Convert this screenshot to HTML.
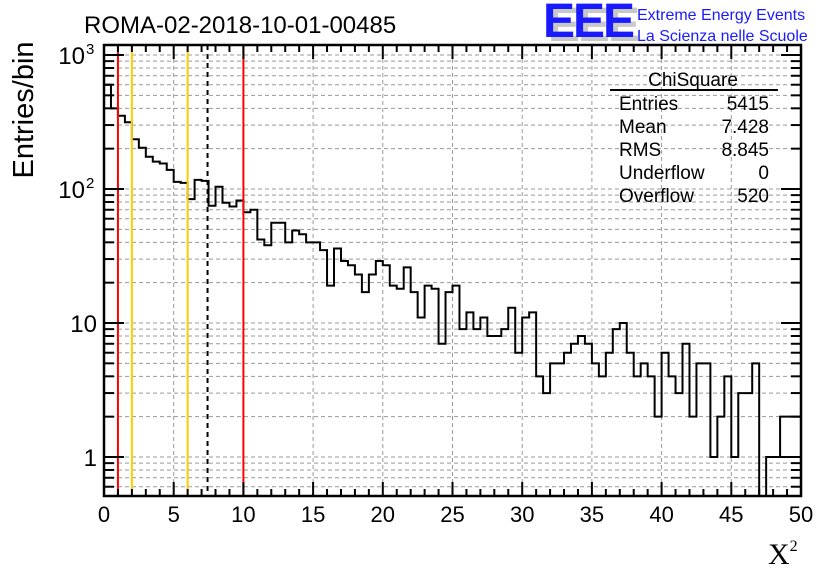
<!DOCTYPE html>
<html><head><meta charset="utf-8"><style>
html,body{margin:0;padding:0;background:#fff;}
svg{display:block;font-family:"Liberation Sans",sans-serif;}
</style></head><body>
<svg id="chart" width="836" height="572" viewBox="0 0 836 572">
<g id="grid"></g>
<g id="hist"></g>
<g id="cuts"></g>
<g id="axes"></g>
<text x="84" y="33" font-size="24">ROMA-02-2018-10-01-00485</text>
<text transform="translate(33,110) rotate(-90)" text-anchor="middle" font-size="29">Entries/bin</text>
<text x="768" y="564" font-size="30" font-family="Liberation Serif,serif">X<tspan font-size="16" dy="-13">2</tspan></text>
<g>
<text x="548" y="41" font-size="48" font-weight="bold" fill="#c8c8c8" letter-spacing="-2">EEE</text>
<text x="543" y="37" font-size="48" font-weight="bold" fill="#1a1aff" letter-spacing="-2">EEE</text>
<text x="637" y="20" font-size="16" fill="#1a1aff">Extreme Energy Events</text>
<text x="637" y="41" font-size="16" fill="#1a1aff">La Scienza nelle Scuole</text>
</g>
<g font-size="19">
<text x="693" y="86" text-anchor="middle">ChiSquare</text>
<line x1="610" y1="90" x2="778" y2="90" stroke="#000" stroke-width="2"/>
<text x="619" y="110">Entries</text><text x="769" y="110" text-anchor="end">5415</text>
<text x="619" y="133">Mean</text><text x="769" y="133" text-anchor="end">7.428</text>
<text x="619" y="156">RMS</text><text x="769" y="156" text-anchor="end">8.845</text>
<text x="619" y="179">Underflow</text><text x="769" y="179" text-anchor="end">0</text>
<text x="619" y="202">Overflow</text><text x="769" y="202" text-anchor="end">520</text>
</g>
</svg>
<script>
const counts = [600,400,352,315,235,203,174,160,155,139,113,111,84,117,115,75,104,79,74,82,
67,70,42,38,56,56,40,49,46,40,40,35,19,36,29,27,23,17,23,29,
27,19,18,26,17,11,19,18,7,17,19,9,12,9,11,8,8,9,13,6,
11,12,4,3,5,5,6,7,8,7,5,4,6,9,10,6,4,5,4,2,
6,4,3,7,2,5,5,1,2,4,1,3,3,5,0,1,1,2,2,2];
const xTicks = [0,5,10,15,20,25,30,35,40,45,50];
const yTickLabels = [{v:1,t:"1"},{v:10,t:"10"},{v:100,t:"10",e:"2"},{v:1000,t:"10",e:"3"}];
const cuts = [{x:1,c:"#ff0000",d:""},{x:2,c:"#ffcc00",d:""},{x:6,c:"#ffcc00",d:""},{x:10,c:"#ff0000",d:""},{x:7.428,c:"#000",d:"5,4"}];
const binWidth = 0.5;

const L=104,R=801,T=45,B=496;
const X0=0,X1=50;
function sx(v){return L+(v-X0)/(X1-X0)*(R-L);}
function sy(v){return 457-134*Math.log10(v);}
const NS="http://www.w3.org/2000/svg";
function mk(tag,attrs,parent){const e=document.createElementNS(NS,tag);for(const k in attrs)e.setAttribute(k,attrs[k]);parent.appendChild(e);return e;}
const grid=document.getElementById('grid'),hist=document.getElementById('hist'),cutsG=document.getElementById('cuts'),axes=document.getElementById('axes');

for(const t of xTicks){ if(t===X0||t===X1)continue;
 const g=mk('line',{x1:sx(t),x2:sx(t),y1:T,y2:B,stroke:'#999','stroke-dasharray':'4,3','stroke-width':1},grid);
 
 
}
for(let d=0.1;d<=1000;d*=10){for(let m=1;m<10;m++){const v=d*m;const y=sy(v);if(y<T+1||y>B-1)continue;
 const g=mk('line',{x1:L,x2:R,y1:y,y2:y,stroke:'#999','stroke-dasharray':'4,3','stroke-width':1},grid);
 
 
 const len=(m===1)?20:10;
 const t1=mk('line',{x1:L,x2:L+len,y1:y,y2:y,stroke:'#000','stroke-width':2},axes);
 
 
 const t2=mk('line',{x1:R-len,x2:R,y1:y,y2:y,stroke:'#000','stroke-width':2},axes);
 
 
}}

let d='M'+sx(0)+','+B;
counts.forEach((c,i)=>{const y=c>0?Math.min(B,sy(c)):B;d+=' L'+sx(i*binWidth)+','+y+' L'+sx((i+1)*binWidth)+','+y;});
d+=' L'+sx(counts.length*binWidth)+','+B;
const hp=mk('path',{d:d,fill:'none',stroke:'#000','stroke-width':2},hist);



for(const c of cuts){const ln=mk('line',{x1:sx(c.x),x2:sx(c.x),y1:T,y2:B,stroke:c.c,'stroke-width':2},cutsG);
 if(c.d)ln.setAttribute('stroke-dasharray',c.d);
 
 
}

const fr=mk('rect',{x:L,y:T,width:R-L,height:B-T,fill:'none',stroke:'#000','stroke-width':2.5},axes);



for(let v=X0;v<=X1;v+=1){const major=(v%5===0);const len=major?14:7;
 const a=mk('line',{x1:sx(v),x2:sx(v),y1:B-len,y2:B,stroke:'#000','stroke-width':2},axes);
 
 
 const b=mk('line',{x1:sx(v),x2:sx(v),y1:T,y2:T+len,stroke:'#000','stroke-width':2},axes);
 
 
}
for(const t of xTicks){const tx=mk('text',{x:sx(t),y:522,'text-anchor':'middle','font-size':22},axes);tx.textContent=t;
 
 
}
for(const t of yTickLabels){const y=sy(t.v);
 const tx=mk('text',{x:t.e?85:97,y:y+9,'text-anchor':'end','font-size':24},axes);tx.textContent=t.t;
 
 
 if(t.e){const s=mk('text',{x:86,y:y-1,'font-size':15},axes);s.textContent=t.e;
  
  }
}
</script>
</body></html>
